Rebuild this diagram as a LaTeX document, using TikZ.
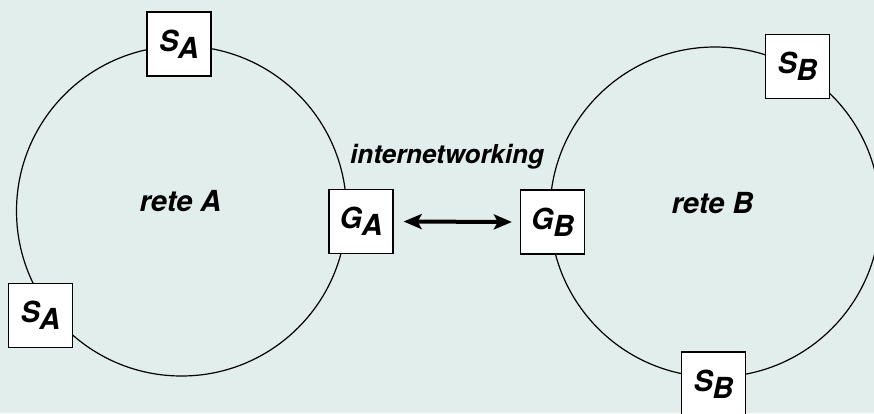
\documentclass[tikz,border=0pt]{standalone}
\usepackage{fontspec}
\setmainfont{TeX Gyre Heros}
\usetikzlibrary{arrows.meta}
\definecolor{paper}{RGB}{226,238,235}
\newcommand{\sublab}[2]{#1\kern-0.5pt\raisebox{-7pt}{#2}}
\tikzset{
  ring/.style={circle,draw=black,line width=1.2pt,inner sep=0pt,minimum size=330pt},
  station/.style={rectangle,draw=black,line width=1.3pt,fill=white,inner sep=0pt,minimum size=64pt,
    font=\fontsize{29}{29}\selectfont\bfseries\itshape},
  netlabel/.style={anchor=base,inner sep=0pt,font=\fontsize{29}{29}\selectfont\bfseries\itshape},
  link/.style={line width=4pt,{Stealth[length=18pt,width=15pt,inset=4pt]}-{Stealth[length=18pt,width=15pt,inset=4pt]}}
}
\begin{document}
\begin{tikzpicture}[x=1pt,y=-1pt]
\fill[paper] (0,0) rectangle (874,413);
\useasboundingbox (0,0) rectangle (874,413);
\node[ring] (ringA) at (181.5,211) {};
\node[ring] (ringB) at (715,212) {};
\node[station] (sa1) at (179,44) {\sublab{S}{A}};
\node[station] (sa2) at (40.5,315.5) {\sublab{S}{A}};
\node[station] (ga) at (361,221.5) {\sublab{G}{A}};
\node[station] (gb) at (552.5,222) {\sublab{G}{B}};
\node[station] (sb1) at (797.5,66.5) {\sublab{S}{B}};
\node[station] (sb2) at (713.5,384) {\sublab{S}{B}};
\node[netlabel] (reteA) at (180.5,211) {rete A};
\node[netlabel] (reteB) at (712.5,213) {rete B};
\node[netlabel,font=\fontsize{26}{26}\selectfont\bfseries\itshape] (inet) at (447,163) {internetworking};
\draw[link] ([xshift=10pt]ga.east) -- ([xshift=-8pt]gb.west);
\end{tikzpicture}
\end{document}
